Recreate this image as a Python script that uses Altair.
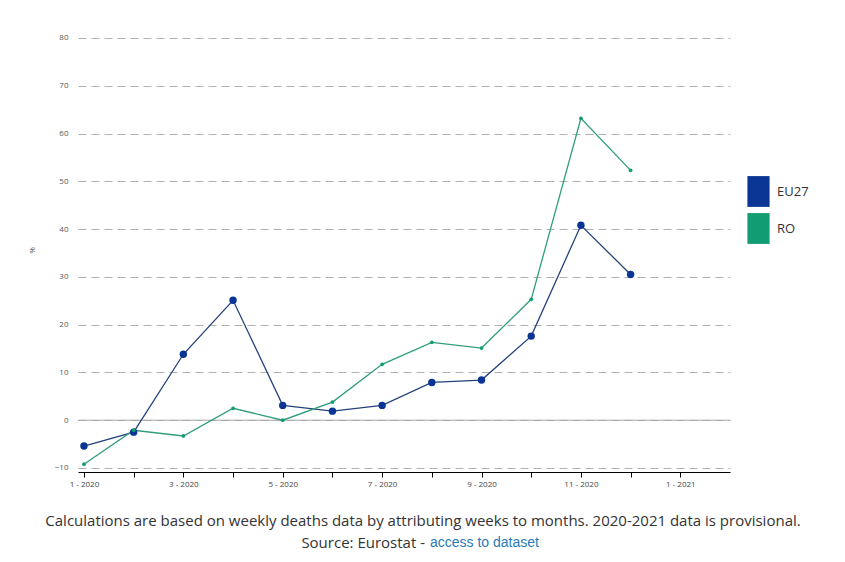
import altair as alt
import pandas as pd

months = list(range(1, 13))
eu27 = [-5.4, -2.5, 13.8, 25.1, 3.1, 1.9, 3.1, 7.9, 8.4, 17.6, 40.8, 30.5]
ro = [-9.2, -2.1, -3.3, 2.5, 0.0, 3.8, 11.7, 16.3, 15.1, 25.3, 63.2, 52.3]
series_names = ["EU27", "RO"]
caption1 = "Calculations are based on weekly deaths data by attributing weeks to months. 2020-2021 data is provisional."
caption2a = "Source: Eurostat -"
caption2b = "access to dataset"

rows = []
for name, vals in zip(series_names, [eu27, ro]):
    for m, v in zip(months, vals):
        rows.append({"month": m, "series": name, "value": v})
df = pd.DataFrame(rows)

W, H = 652, 444
xscale = alt.Scale(domain=[0.88, 14], nice=False, zero=False)
yscale = alt.Scale(domain=[-10.84, 82.09], nice=False, zero=False)
cscale = alt.Scale(domain=series_names, range=["#0b3594", "#129c73"])

label_expr = ("datum.value % 2 == 1 ? (datum.value <= 12 ? datum.value + ' - 2020' : "
              "(datum.value - 12) + ' - 2021') : ''")

xaxis = alt.Axis(values=list(range(1, 14)), labelExpr=label_expr, grid=False,
                 domainColor="#000", tickColor="#000", tickSize=5, domainWidth=1,
                 labelFontSize=8, labelColor="#444", labelFont="Open Sans",
                 labelPadding=3, title=None, labelFlush=False)
yaxis = alt.Axis(values=list(range(-10, 81, 10)), domain=False, ticks=False,
                 grid=True, gridDash=[8, 5], gridColor="#b0b0b0", gridWidth=1,
                 labelFontSize=8, labelColor="#555", labelFont="Open Sans",
                 labelPadding=10, title="%", titleFontSize=8, titleColor="#555",
                 titleFont="Open Sans", titleFontWeight="normal", titlePadding=18)

legend = alt.Legend(orient="none", legendX=665, legendY=148, title=None,
                    symbolType="M-0.72,-1H0.72V1H-0.72Z", symbolSize=950,
                    symbolStrokeWidth=0, labelFontSize=13, labelFont="Open Sans",
                    labelColor="#333", labelOffset=3, rowPadding=6, padding=0)

base = alt.Chart(df)
X = alt.X("month:Q", scale=xscale, axis=xaxis)
Y = alt.Y("value:Q", scale=yscale, axis=yaxis)

zero = alt.Chart(pd.DataFrame({"z": [0]})).mark_rule(color="#a8a8a8", strokeWidth=1).encode(
    y=alt.Y("z:Q", scale=yscale, axis=yaxis))

line_eu = base.transform_filter(alt.datum.series == "EU27").mark_line(
    strokeWidth=1.3, color="#24437c").encode(x=X, y=Y)
line_ro = base.transform_filter(alt.datum.series == "RO").mark_line(
    strokeWidth=1.3, color="#2f9e7c").encode(x=X, y=Y)

pts_eu = base.transform_filter(alt.datum.series == "EU27").mark_point(
    filled=True, opacity=1, size=55).encode(
    x=X, y=Y, color=alt.Color("series:N", scale=cscale, legend=legend))
pts_ro = base.transform_filter(alt.datum.series == "RO").mark_point(
    filled=True, opacity=1, size=14).encode(
    x=X, y=Y, color=alt.Color("series:N", scale=cscale, legend=legend))

t1 = alt.Chart(pd.DataFrame({"t": [caption1]})).mark_text(
    font="Open Sans", fontSize=15, color="#333", align="center", baseline="middle").encode(
    x=alt.value(345), y=alt.value(493), text="t:N")
t2 = alt.Chart(pd.DataFrame({"t": [caption2a]})).mark_text(
    font="Open Sans", fontSize=15, color="#333", align="right", baseline="middle").encode(
    x=alt.value(347), y=alt.value(515), text="t:N")
t3 = alt.Chart(pd.DataFrame({"t": [caption2b]})).mark_text(
    font="Liberation Sans", fontSize=14, color="#2a7ab8", align="left", baseline="middle").encode(
    x=alt.value(352), y=alt.value(515), text="t:N")

chart = alt.layer(zero, line_eu, line_ro, pts_eu, pts_ro, t1, t2, t3).properties(
    width=W, height=H,
    background="white",
    autosize=alt.AutoSizeParams(type="none"),
    padding={"left": 70, "top": 20, "right": 107, "bottom": 82},
).configure_view(strokeWidth=0, stroke="transparent")

chart.save("out.html", embed_options={"renderer": "svg", "actions": False})
